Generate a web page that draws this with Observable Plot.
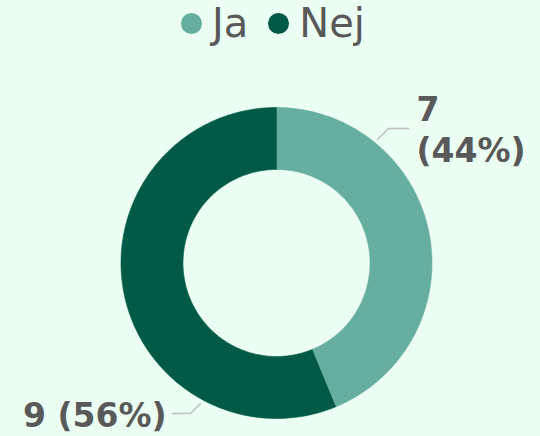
<!DOCTYPE html>
<html><head><meta charset="utf-8">
<script src="https://cdn.jsdelivr.net/npm/d3@7"></script>
<script src="https://cdn.jsdelivr.net/npm/@observablehq/plot@0.6"></script>
<style>
html,body{margin:0;padding:0;background:#ebfff2;}
body{width:540px;height:436px;overflow:hidden;font-family:"DejaVu Sans",sans-serif;}
#legend{height:50px;box-sizing:border-box;padding-top:1px;padding-left:181px;display:flex;align-items:flex-start;}
.item{display:flex;align-items:center;height:44px;margin-right:20px;}
.sw{width:21px;height:21px;border-radius:50%;margin-right:10px;}
.lab{font-size:40px;line-height:44px;color:#595959;}
#chart svg{display:block;}
</style></head>
<body>
<div id="legend"></div>
<div id="chart"></div>
<script>
const categories = ["Ja", "Nej"];
const values = [7, 9];
const colors = ["#66ae9f", "#005a46"];

const total = d3.sum(values);
const rows = categories.map((c, i) => ({cat: c, value: values[i], pct: Math.round(values[i] / total * 100)}));

// legend
const leg = document.getElementById("legend");
rows.forEach((d, i) => {
  const it = document.createElement("div"); it.className = "item";
  const sw = document.createElement("div"); sw.className = "sw"; sw.style.background = colors[i];
  const lb = document.createElement("div"); lb.className = "lab"; lb.textContent = d.cat;
  it.appendChild(sw); it.appendChild(lb); leg.appendChild(it);
});

// layout
const W = 540, H = 386, cx = 276, cy = 212.5, R = 155.5, r0 = 93.5;
const toRad = Math.PI / 180;
const pie = d3.pie().sort(null).value(d => d.value)(rows);

const poly = [];
pie.forEach(p => {
  const n = 200;
  for (let k = 0; k <= n; k++) {
    const a = p.startAngle + (p.endAngle - p.startAngle) * k / n;
    poly.push({cat: p.data.cat, x: R * Math.sin(a), y: R * Math.cos(a)});
  }
  for (let k = n; k >= 0; k--) {
    const a = p.startAngle + (p.endAngle - p.startAngle) * k / n;
    poly.push({cat: p.data.cat, x: r0 * Math.sin(a), y: r0 * Math.cos(a)});
  }
});

// label layout (angle of leader start in degrees clockwise from north, elbow offset, horizontal run, text gap)
const labelLayout = {
  Ja:  {angle: 39.3, rad: 159.5, ex: 11, ey: 11, run: 20, gap: 8, anchor: "start", multi: true},
  Nej: {angle: 208.4, rad: 159.7, ex: -10, ey: -10, run: -18, gap: -6, anchor: "end", multi: false}
};
const leaders = [], labels = [];
rows.forEach(d => {
  const L = labelLayout[d.cat];
  const sx = L.rad * Math.sin(L.angle * toRad), sy = L.rad * Math.cos(L.angle * toRad);
  const e = {x: sx + L.ex, y: sy + L.ey};
  leaders.push({cat: d.cat, x: sx, y: sy}, {cat: d.cat, x: e.x, y: e.y}, {cat: d.cat, x: e.x + L.run, y: e.y});
  labels.push({cat: d.cat, x: e.x + L.run + L.gap, y: e.y, anchor: L.anchor,
    text: L.multi ? `${d.value}\n(${d.pct}%)` : `${d.value} (${d.pct}%)`});
});

const chart = Plot.plot({
  width: W, height: H,
  margin: 0,
  style: {background: "transparent", overflow: "visible"},
  x: {domain: [-cx, W - cx], range: [0, W], axis: null},
  y: {domain: [cy - H, cy], range: [H, 0], axis: null},
  color: {domain: categories, range: colors},
  marks: [
    Plot.line(poly, {x: "x", y: "y", z: "cat", fill: "cat", stroke: "cat", strokeWidth: 0.6}),
    Plot.line(leaders, {x: "x", y: "y", z: "cat", stroke: "#bfbfbf", strokeWidth: 1.5}),
    Plot.text(labels.filter(d => d.anchor === "start"), {x: "x", y: "y", text: "text", textAnchor: "start",
      lineAnchor: "middle", lineHeight: 1.25, fontSize: 33, fontWeight: "bold", fill: "#595959", fontFamily: "DejaVu Sans"}),
    Plot.text(labels.filter(d => d.anchor === "end"), {x: "x", y: "y", text: "text", textAnchor: "end",
      lineAnchor: "middle", lineHeight: 1.25, fontSize: 33, fontWeight: "bold", fill: "#595959", fontFamily: "DejaVu Sans"})
  ]
});
document.getElementById("chart").appendChild(chart);
</script>
</body></html>
